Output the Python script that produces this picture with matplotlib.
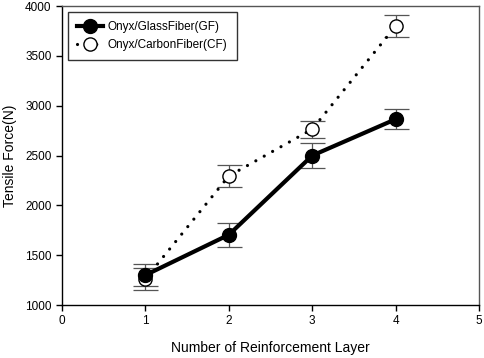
import matplotlib
matplotlib.use("Agg")
import matplotlib.pyplot as plt

layers = [1, 2, 3, 4]
gf_force = [1300, 1705, 2500, 2865]
gf_err = [110, 120, 125, 100]
cf_force = [1262, 2295, 2765, 3800]
cf_err = [110, 115, 85, 110]
gf_label = "Onyx/GlassFiber(GF)"
cf_label = "Onyx/CarbonFiber(CF)"
x_ticks = [0, 1, 2, 3, 4, 5]
y_ticks = [1000, 1500, 2000, 2500, 3000, 3500, 4000]

plt.rcParams['font.family'] = ['Liberation Sans', 'DejaVu Sans']

fig = plt.figure(figsize=(4.84, 3.58), dpi=100)
ax = fig.add_axes([0.128, 0.148, 0.862, 0.835])

ax.errorbar(layers, gf_force, yerr=gf_err, fmt='none', ecolor='#555555',
            elinewidth=0.9, capsize=9, capthick=0.9, zorder=2)
ax.errorbar(layers, cf_force, yerr=cf_err, fmt='none', ecolor='#555555',
            elinewidth=0.9, capsize=9, capthick=0.9, zorder=2)
ax.plot(layers, cf_force, linestyle=(0, (0.01, 3.0)), dash_capstyle='round',
        color='black', linewidth=2.3, marker='o', markersize=9.5,
        markerfacecolor='white', markeredgecolor='black', markeredgewidth=1.0,
        label=cf_label, zorder=3)
ax.plot(layers, gf_force, linestyle='-', color='black', linewidth=3.0,
        marker='o', markersize=10, markerfacecolor='black',
        markeredgecolor='black', label=gf_label, zorder=4)

ax.set_xlim(0, 5)
ax.set_ylim(1000, 4000)
ax.set_xticks(x_ticks)
ax.set_yticks(y_ticks)
ax.tick_params(axis='both', direction='out', length=4, width=1, labelsize=8.5,
               top=False, right=False)
for s in ax.spines.values():
    s.set_linewidth(1.0)
ax.spines['top'].set_color('#555555')
ax.spines['right'].set_color('#555555')

ax.set_xlabel("Number of Reinforcement Layer", fontsize=10, labelpad=10)
ax.set_ylabel("Tensile Force(N)", fontsize=10, labelpad=6)

handles, labels = ax.get_legend_handles_labels()
leg = ax.legend(handles[::-1], labels[::-1], loc='upper left', fontsize=8.5,
                frameon=True, fancybox=False, edgecolor='black',
                handlelength=2.2, borderpad=0.75, labelspacing=0.55,
                handletextpad=0.45, borderaxespad=0.5)
leg.get_frame().set_linewidth(1.0)

fig.savefig("out.png", dpi=100)
